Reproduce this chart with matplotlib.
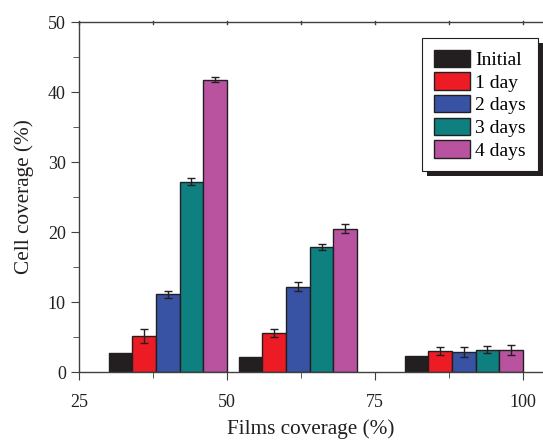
import numpy as np
import matplotlib.pyplot as plt
from matplotlib.ticker import MultipleLocator
from matplotlib.patches import Rectangle
from matplotlib.transforms import IdentityTransform

plt.rcParams['font.family'] = ['Liberation Serif', 'DejaVu Serif']

# data
groups = [40, 62, 90]
series = ['Initial', '1 day', '2 days', '3 days', '4 days']
values = [
    [2.7, 2.2, 2.3],     # Initial
    [5.1, 5.6, 3.0],     # 1 day
    [11.1, 12.2, 2.9],   # 2 days
    [27.2, 17.9, 3.2],   # 3 days
    [41.8, 20.5, 3.1],   # 4 days
]
errors = [
    [0, 0, 0],
    [1.0, 0.6, 0.6],
    [0.5, 0.6, 0.7],
    [0.5, 0.4, 0.5],
    [0.4, 0.6, 0.7],
]
colors = ['#231f20', '#ed1c24', '#3953a4', '#0f8080', '#b9529f']

fig = plt.figure(figsize=(5.43, 4.40), dpi=100)
ax = fig.add_axes([0.1455, 0.1545, 0.8545, 0.795])

width = 4
offsets = (np.arange(len(series)) - 2) * width
for i, name in enumerate(series):
    x = np.array(groups) + offsets[i]
    yerr = errors[i] if any(errors[i]) else None
    ax.bar(x, values[i], width, color=colors[i], edgecolor='#231f20',
           linewidth=1.0, label=name, yerr=yerr,
           error_kw=dict(ecolor='#231f20', elinewidth=1.0, capsize=3, capthick=1.0))

ax.set_xlim(25, 103.4)
ax.set_ylim(0, 50)
ax.set_xticks([25, 50, 75, 100])
ax.xaxis.set_minor_locator(MultipleLocator(12.5))
ax.yaxis.set_major_locator(MultipleLocator(10))
ax.yaxis.set_minor_locator(MultipleLocator(5))
ax.spines['right'].set_visible(False)
for s in ['left', 'bottom', 'top']:
    ax.spines[s].set_color('#404040')
    ax.spines[s].set_linewidth(1.0)
ax.tick_params(axis='x', which='both', direction='out', top=False,
               colors='#404040', labelcolor='#231f20', labelsize=13, pad=10)
ax.tick_params(axis='x', which='major', length=6)
ax.tick_params(axis='x', which='minor', length=4)
ax.tick_params(axis='y', which='both', direction='out', colors='#404040',
               labelcolor='#231f20', labelsize=13)
ax.tick_params(axis='y', which='major', length=6)
ax.tick_params(axis='y', which='minor', length=4)

# tiny marks on the top spine
for xt in np.arange(25, 104, 12.5):
    ax.plot([xt, xt], [49.8, 50.2], color='#404040', lw=1.0, clip_on=False)

ax.set_xlabel('Films coverage (%)', fontsize=15.3, color='#231f20', labelpad=6)
ax.set_ylabel('Cell coverage (%)', fontsize=15.3, color='#231f20', labelpad=10)

leg = ax.legend(loc='upper right', bbox_to_anchor=(0.989, 0.955), fontsize=14,
                frameon=True, fancybox=False, edgecolor='#231f20', framealpha=1,
                handlelength=1.85, handleheight=1.0, labelspacing=0.17,
                handletextpad=0.3, borderpad=0.6, borderaxespad=0)
leg.get_frame().set_linewidth(0.8)

# thick black drop shadow behind the legend box
fig.canvas.draw()
bb = leg.get_window_extent()
shadow = Rectangle((bb.x0 + 5, bb.y0 - 5), bb.width, bb.height,
                   facecolor='#231f20', edgecolor='none')
shadow.set_transform(IdentityTransform())
shadow.set_clip_on(False)
shadow.set_zorder(4.9)
ax.add_patch(shadow)

fig.savefig('out.png', dpi=100)
